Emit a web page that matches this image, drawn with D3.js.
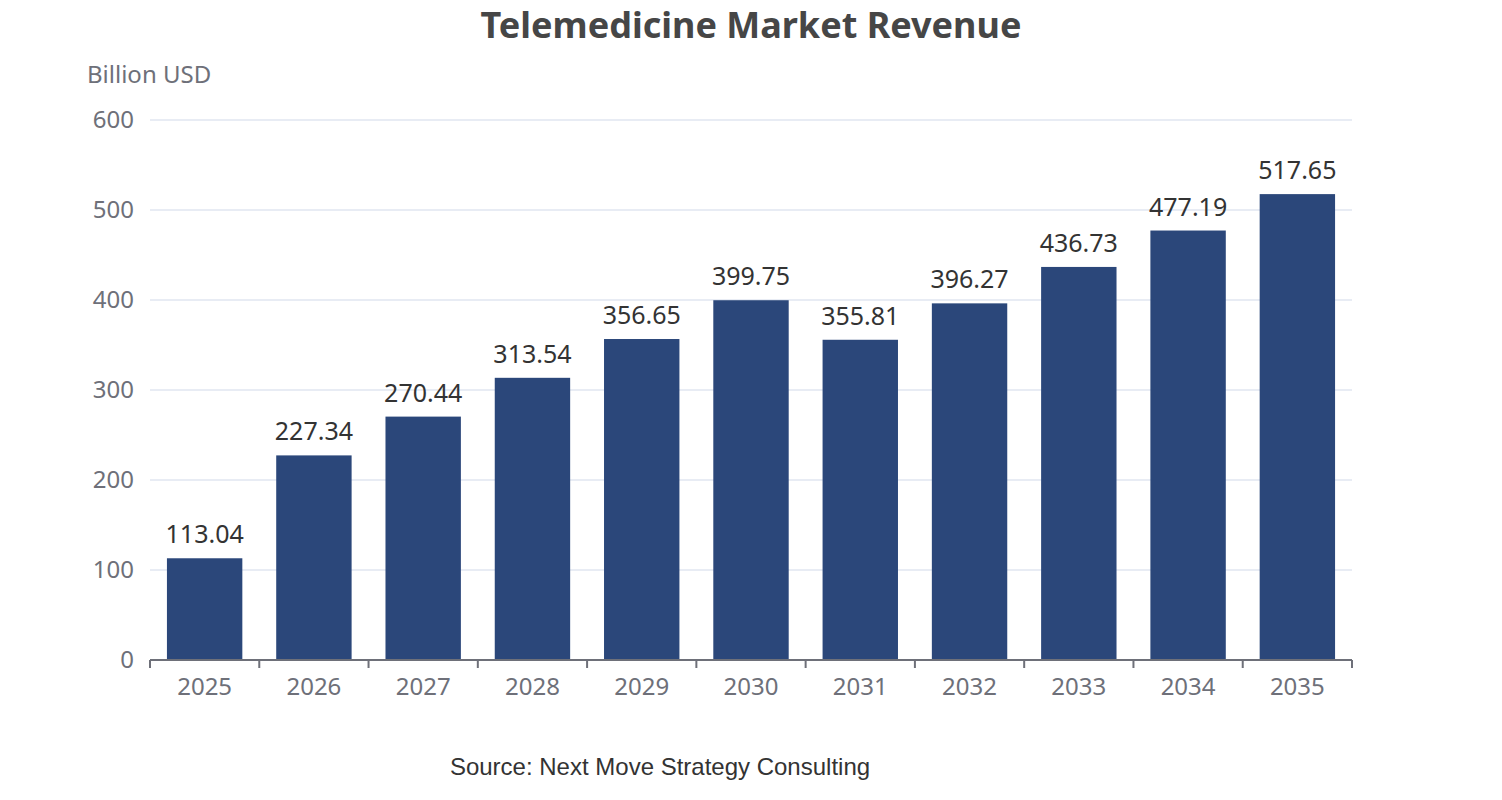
<!DOCTYPE html>
<html>
<head>
<meta charset="utf-8">
<script src="https://cdn.jsdelivr.net/npm/d3@7"></script>
<style>
  body { margin: 0; background: #fff; }
  text { font-family: "Noto Sans", "Open Sans", sans-serif; }
</style>
</head>
<body>
<svg id="chart" width="1502" height="800"></svg>
<script>
const years = ['2025', '2026', '2027', '2028', '2029', '2030', '2031', '2032', '2033', '2034', '2035'];
const revenue = [113.04, 227.34, 270.44, 313.54, 356.65, 399.75, 355.81, 396.27, 436.73, 477.19, 517.65];
const yTicks = [0, 100, 200, 300, 400, 500, 600];

const svg = d3.select('#chart');
const plot = { left: 150, right: 1352, top: 120, bottom: 660 };

const x = d3.scaleBand().domain(years).range([plot.left, plot.right]).paddingInner(0).paddingOuter(0);
const y = d3.scaleLinear().domain([0, 600]).range([plot.bottom, plot.top]);

// grid
svg.append('g')
  .selectAll('line')
  .data(yTicks.filter(d => d > 0))
  .join('line')
  .attr('x1', plot.left).attr('x2', plot.right)
  .attr('y1', d => y(d)).attr('y2', d => y(d))
  .attr('stroke', '#E0E6F1').attr('stroke-width', 1.5);

// y labels
svg.append('g')
  .selectAll('text')
  .data(yTicks)
  .join('text')
  .attr('x', 134).attr('y', d => y(d))
  .attr('dy', '0.35em')
  .attr('text-anchor', 'end')
  .attr('fill', '#6E7079')
  .attr('font-size', 24)
  .text(d => d);

// bars
const bw = x.bandwidth() * 0.69;
svg.append('g')
  .selectAll('rect')
  .data(revenue)
  .join('rect')
  .attr('x', (d, i) => x(years[i]) + (x.bandwidth() - bw) / 2)
  .attr('width', bw)
  .attr('y', d => y(d))
  .attr('height', d => y(0) - y(d))
  .attr('fill', '#2B477A');

// value labels
svg.append('g')
  .selectAll('text')
  .data(revenue)
  .join('text')
  .attr('x', (d, i) => x(years[i]) + x.bandwidth() / 2)
  .attr('y', d => y(d) - 15)
  .attr('text-anchor', 'middle')
  .attr('fill', '#333')
  .attr('font-size', 25)
  .text(d => d.toFixed(2));

// x axis
const xAxis = svg.append('g').attr('transform', `translate(0,${plot.bottom})`);
xAxis.append('line')
  .attr('x1', plot.left).attr('x2', plot.right)
  .attr('stroke', '#6E7079').attr('stroke-width', 2);
xAxis.selectAll('line.tick')
  .data(d3.range(years.length + 1))
  .join('line')
  .attr('class', 'tick')
  .attr('x1', i => plot.left + i * x.step()).attr('x2', i => plot.left + i * x.step())
  .attr('y1', 0).attr('y2', 8)
  .attr('stroke', '#6E7079').attr('stroke-width', 2);
xAxis.selectAll('text')
  .data(years)
  .join('text')
  .attr('x', d => x(d) + x.bandwidth() / 2)
  .attr('y', 35)
  .attr('text-anchor', 'middle')
  .attr('fill', '#6E7079')
  .attr('font-size', 24)
  .text(d => d);

// titles
svg.append('text')
  .attr('x', 751).attr('y', 38)
  .attr('text-anchor', 'middle')
  .attr('font-size', 36).attr('font-weight', 'bold')
  .attr('fill', '#464646')
  .text('Telemedicine Market Revenue');

svg.append('text')
  .attr('x', 87).attr('y', 83)
  .attr('fill', '#6E7079')
  .attr('font-size', 24)
  .text('Billion USD');

svg.append('text')
  .attr('x', 660).attr('y', 775)
  .attr('text-anchor', 'middle')
  .attr('fill', '#333')
  .attr('font-size', 24)
  .style('font-family', '"Liberation Sans", Arial, sans-serif')
  .text('Source: Next Move Strategy Consulting');
</script>
</body>
</html>
